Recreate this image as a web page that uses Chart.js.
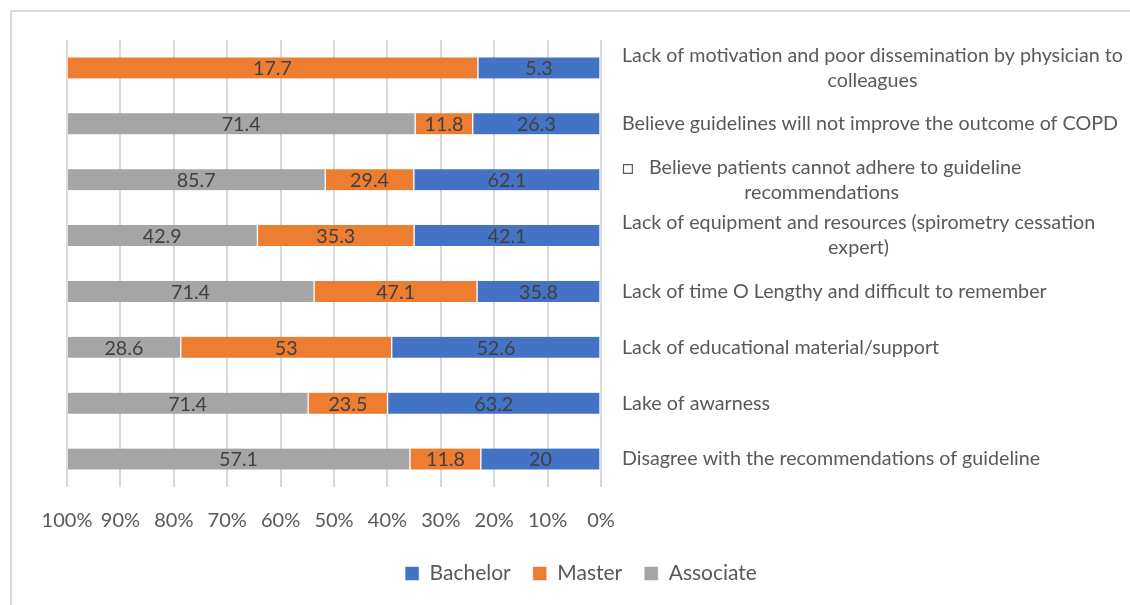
<!DOCTYPE html>
<html>
<head>
<meta charset="utf-8">
<script src="https://cdn.jsdelivr.net/npm/chart.js@4.4.1/dist/chart.umd.min.js"></script>
<style>
    html, body { margin: 0; padding: 0; background: #fff; overflow: hidden; }
    #frame { position: absolute; left: 10px; top: 10px; width: 1200px; height: 700px; border: 2px solid #d9d9d9; }
    #wrap { position: absolute; left: 0; top: 0; width: 1130px; height: 605px; }
</style>
</head>
<body>
<div id="frame"></div>
<div id="wrap"><canvas id="chart"></canvas></div>
<script>
const labels = [
    ['Lack of motivation and poor dissemination by physician to', 'colleagues'],
    'Believe guidelines will not improve the outcome of COPD',
    ['\u25A1   Believe patients cannot adhere to guideline', 'recommendations'],
    ['Lack of equipment and resources (spirometry cessation', 'expert)'],
    'Lack of time O Lengthy and difficult to remember',
    'Lack of educational material/support',
    'Lake of awarness',
    'Disagree with the recommendations of guideline'
];
const bachelor = [5.3, 26.3, 62.1, 42.1, 35.8, 52.6, 63.2, 20];
const master = [17.7, 11.8, 29.4, 35.3, 47.1, 53, 23.5, 11.8];
const associate = [null, 71.4, 85.7, 42.9, 71.4, 28.6, 71.4, 57.1];

const FONT = 'Lato, "Open Sans", sans-serif';
const SIZE = 19.7;
const TEXT = '#595959';

// 100% apilado: cada fila se normaliza a su total
const totals = labels.map((_, i) => (bachelor[i] || 0) + (master[i] || 0) + (associate[i] || 0));
const pct = (arr) => arr.map((v, i) => v == null ? null : v / totals[i] * 100);

// Etiquetas de valor dentro de cada segmento
const valueLabels = {
    id: 'valueLabels',
    afterDatasetsDraw(chart) {
        const ctx = chart.ctx;
        ctx.save();
        ctx.font = SIZE + 'px ' + FONT;
        ctx.fillStyle = '#404040';
        ctx.textAlign = 'center';
        ctx.textBaseline = 'middle';
        chart.data.datasets.forEach((ds, di) => {
            const meta = chart.getDatasetMeta(di);
            meta.data.forEach((bar, i) => {
                const raw = ds.raw[i];
                if (raw == null) return;
                ctx.fillText(String(raw), (bar.x + bar.base) / 2, bar.y + 1);
            });
        });
        ctx.restore();
    }
};

// Etiquetas de categoría a la derecha (estilo Excel: líneas centradas en su bloque)
const categoryLabels = {
    id: 'categoryLabels',
    afterDraw(chart) {
        const ctx = chart.ctx;
        const y = chart.scales.y;
        const x0 = chart.chartArea.right + 21;
        const lineH = 25;
        ctx.save();
        ctx.font = SIZE + 'px ' + FONT;
        ctx.fillStyle = TEXT;
        ctx.textBaseline = 'middle';
        ctx.textAlign = 'center';
        labels.forEach((lab, i) => {
            const lines = Array.isArray(lab) ? lab : [lab];
            const widest = Math.max(...lines.map(l => ctx.measureText(l).width));
            const cy = y.getPixelForValue(i);
            const top = cy - (lines.length - 1) * lineH / 2;
            lines.forEach((l, k) => {
                ctx.fillText(l, x0 + widest / 2, top + k * lineH);
            });
        });
        ctx.restore();
    }
};

new Chart(document.getElementById('chart'), {
    type: 'bar',
    data: {
        labels: labels,
        datasets: [
            { label: 'Bachelor', data: pct(bachelor), raw: bachelor, backgroundColor: '#4472C4' },
            { label: 'Master', data: pct(master), raw: master, backgroundColor: '#ED7D31' },
            { label: 'Associate', data: pct(associate), raw: associate, backgroundColor: '#A5A5A5' }
        ]
    },
    options: {
        indexAxis: 'y',
        responsive: true,
        maintainAspectRatio: false,
        animation: false,
        datasets: {
            bar: {
                barThickness: 21,
                borderColor: '#ffffff',
                borderWidth: { left: 1, right: 1, top: 0, bottom: 0 },
                borderSkipped: false
            }
        },
        layout: {
            padding: { left: 67, right: 35, top: 40, bottom: 11 }
        },
        plugins: {
            legend: {
                position: 'bottom',
                labels: {
                    color: TEXT,
                    font: { family: FONT, size: 21 },
                    boxWidth: 14,
                    boxHeight: 14,
                    padding: 22
                }
            },
            tooltip: { enabled: false }
        },
        scales: {
            x: {
                stacked: true,
                reverse: true,
                min: 0,
                max: 100,
                ticks: {
                    stepSize: 10,
                    padding: 22,
                    maxRotation: 0,
                    minRotation: 0,
                    autoSkip: false,
                    color: TEXT,
                    font: { family: FONT, size: 20 },
                    callback: v => v + '%'
                },
                grid: { color: '#d9d9d9', lineWidth: 2, drawTicks: false },
                border: { display: false },
                afterFit: s => { s.height = 54; }
            },
            y: {
                stacked: true,
                position: 'right',
                ticks: { display: false },
                grid: { display: false },
                border: { display: false },
                afterFit: s => { s.width = 494; }
            }
        }
    },
    plugins: [valueLabels, categoryLabels]
});
</script>
</body>
</html>
